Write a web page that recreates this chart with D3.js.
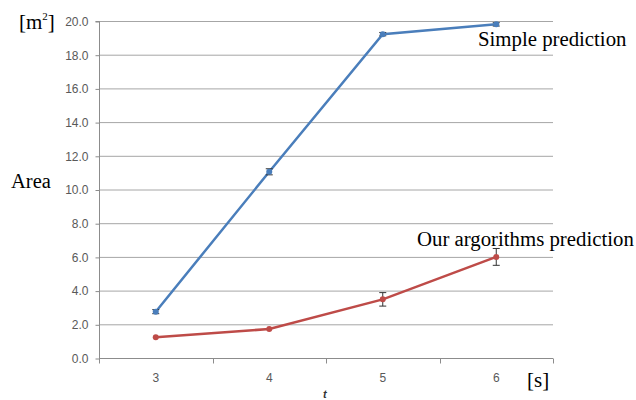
<!DOCTYPE html>
<html><head><meta charset="utf-8">
<script src="https://cdn.jsdelivr.net/npm/d3@7"></script>
<style>body{margin:0;background:#fff}svg{display:block}</style>
</head><body>
<svg id="c" width="636" height="400"></svg>
<script>
const categories = ["3","4","5","6"];
const simpleValues = [2.75, 11.05, 19.22, 19.8];
const simpleErrors = [0.12, 0.18, 0.1, 0.1];
const oursValues = [1.23, 1.72, 3.48, 6.0];
const oursErrors = [0, 0, 0.4, 0.5];
const yTicks = [0,2,4,6,8,10,12,14,16,18,20];

const svg = d3.select("#c");
const L = 99, R = 553, T = 21, B = 358;
const x = d3.scaleBand().domain(categories).range([L, R]);
const y = d3.scaleLinear().domain([0, 20]).range([B, T]);

// gridlines
svg.append("g").selectAll("line").data(yTicks.slice(1)).join("line")
  .attr("x1", L).attr("x2", R).attr("y1", d => y(d)+0.5).attr("y2", d => y(d)+0.5)
  .attr("stroke", "#a6a6a6").attr("stroke-width", 1);

// y axis
const yAxis = d3.axisLeft(y).tickValues(yTicks).tickFormat(d3.format(".1f")).tickSize(4).tickPadding(7);
const gy = svg.append("g").attr("transform", `translate(${L+0.5},0.5)`).call(yAxis);
gy.select(".domain").attr("stroke", "#8c8c8c").attr("d", `M-4,${T}H0V${B}`);
gy.selectAll(".tick line").attr("stroke", "#8c8c8c");
gy.selectAll("text").attr("font-family", "Liberation Sans, Arial, sans-serif").attr("font-size", 12).attr("fill", "#595959");

// x axis
const gx = svg.append("g").attr("transform", `translate(0,${B+0.5})`);
gx.append("line").attr("x1", L).attr("x2", R).attr("stroke", "#8c8c8c");
const bounds = categories.map(c => x(c)).concat([R]);
gx.selectAll(".bt").data(bounds).join("line").attr("class","bt")
  .attr("x1", d => Math.round(d)+0.5).attr("x2", d => Math.round(d)+0.5).attr("y1", 0).attr("y2", 5)
  .attr("stroke", "#8c8c8c");
gx.selectAll("text").data(categories).join("text")
  .attr("x", d => x(d) + x.bandwidth()/2).attr("y", 23)
  .attr("text-anchor", "middle")
  .attr("font-family", "Liberation Sans, Arial, sans-serif").attr("font-size", 12).attr("fill", "#595959")
  .text(d => d);

function series(vals, errs, color) {
  const pts = categories.map((c, i) => ({x: x(c) + x.bandwidth()/2, v: vals[i], e: errs[i]}));
  svg.append("path").datum(pts)
    .attr("d", d3.line().x(d => d.x).y(d => y(d.v)))
    .attr("fill", "none").attr("stroke", color).attr("stroke-width", 2.5);
  const g = svg.append("g");
  pts.filter(p => p.e > 0).forEach(p => {
    const y1 = y(p.v + p.e), y2 = y(p.v - p.e);
    g.append("line").attr("x1", p.x).attr("x2", p.x).attr("y1", y1).attr("y2", y2).attr("stroke", "#333").attr("stroke-width", 1);
    g.append("line").attr("x1", p.x-3.5).attr("x2", p.x+3.5).attr("y1", y1).attr("y2", y1).attr("stroke", "#333").attr("stroke-width", 1);
    g.append("line").attr("x1", p.x-3.5).attr("x2", p.x+3.5).attr("y1", y2).attr("y2", y2).attr("stroke", "#333").attr("stroke-width", 1);
  });
  svg.append("g").selectAll("circle").data(pts).join("circle")
    .attr("cx", d => d.x).attr("cy", d => y(d.v)).attr("r", 3).attr("fill", color);
}
series(simpleValues, simpleErrors, "#4a7ebb");
series(oursValues, oursErrors, "#be4b48");

const serif = "Liberation Serif, Times New Roman, serif";
function txt(t, xx, yy, size, anchor) {
  return svg.append("text").attr("x", xx).attr("y", yy).attr("font-family", serif)
    .attr("font-size", size).attr("fill", "#000").attr("text-anchor", anchor || "start").text(t);
}
const m = txt("[m", 19, 29, 21);
m.append("tspan").attr("font-size", 11).attr("dy", -9).text("2");
m.append("tspan").attr("font-size", 21).attr("dy", 9).text("]");
txt("Area", 11, 188, 20.5);
txt("[s]", 527, 387, 21);
txt("Simple prediction", 478, 46, 20.8);
txt("Our argorithms prediction", 417, 246, 20.8);
svg.append("text").attr("x", 323).attr("y", 398).attr("font-family", "Liberation Sans, Arial, sans-serif")
  .attr("font-size", 11).attr("font-style", "italic").attr("font-weight", "bold").attr("fill", "#333").text("t");
</script>
</body></html>
